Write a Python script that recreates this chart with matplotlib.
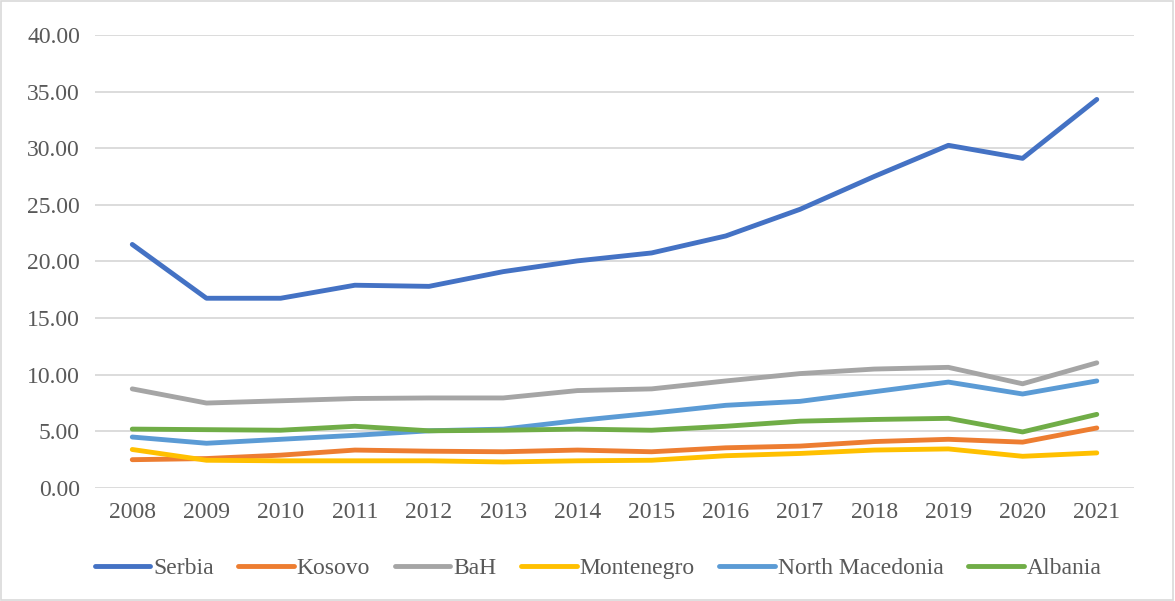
import matplotlib.pyplot as plt
from matplotlib.patches import Rectangle

years = ['2008', '2009', '2010', '2011', '2012', '2013', '2014',
         '2015', '2016', '2017', '2018', '2019', '2020', '2021']

serbia = [21.5, 16.75, 16.75, 17.9, 17.8, 19.1, 20.05,
          20.75, 22.25, 24.6, 27.5, 30.25, 29.1, 34.3]
kosovo = [2.5, 2.6, 2.9, 3.35, 3.25, 3.2, 3.35,
          3.2, 3.55, 3.7, 4.1, 4.3, 4.05, 5.3]
bah = [8.75, 7.5, 7.7, 7.9, 7.95, 7.95, 8.6,
       8.75, 9.45, 10.1, 10.5, 10.65, 9.2, 11.05]
montenegro = [3.4, 2.45, 2.4, 2.4, 2.4, 2.3, 2.4,
              2.45, 2.85, 3.05, 3.35, 3.45, 2.8, 3.1]
north_macedonia = [4.5, 3.95, 4.3, 4.65, 5.05, 5.2, 5.95,
                   6.6, 7.3, 7.65, 8.5, 9.35, 8.3, 9.45]
albania = [5.2, 5.15, 5.1, 5.45, 5.05, 5.1, 5.2,
           5.1, 5.45, 5.9, 6.05, 6.15, 4.95, 6.5]

series = [('Serbia', serbia, '#4472C4'),
          ('Kosovo', kosovo, '#ED7D31'),
          ('BaH', bah, '#A5A5A5'),
          ('Montenegro', montenegro, '#FFC000'),
          ('North Macedonia', north_macedonia, '#5B9BD5'),
          ('Albania', albania, '#70AD47')]

plt.rcParams['font.family'] = ['Liberation Serif', 'DejaVu Serif']

fig = plt.figure(figsize=(11.75, 6.01), dpi=100)
ax = fig.add_axes([0.081, 0.188, 0.884, 0.754])

x = list(range(len(years)))
for name, vals, color in series:
    ax.plot(x, vals, color=color, linewidth=3.5, label=name,
            solid_capstyle='round', solid_joinstyle='round')

ax.set_xlim(-0.5, len(years) - 0.5)
ax.set_ylim(0, 40)
ax.set_yticks(range(0, 41, 5))
ax.set_yticklabels(['{:.2f}'.format(v) for v in range(0, 41, 5)])
ax.set_xticks(x)
ax.set_xticklabels(years)
ax.grid(axis='y', color='#D9D9D9', linewidth=1.3)
ax.set_axisbelow(True)
for s in ax.spines.values():
    s.set_visible(False)
ax.tick_params(axis='both', length=0, labelsize=17, colors='#595959')
ax.tick_params(axis='y', pad=11)
ax.tick_params(axis='x', pad=10)

fig.legend(loc='center', bbox_to_anchor=(0.509, 0.054), ncol=6, frameon=False,
           fontsize=17, labelcolor='#595959', handlelength=2.35,
           handletextpad=0.12, columnspacing=1.05)

fig.patches.append(Rectangle((0.001, 0.002), 0.997, 0.996, transform=fig.transFigure,
                             fill=False, edgecolor='#D9D9D9', linewidth=1.2))

fig.savefig('out.png', dpi=100)
